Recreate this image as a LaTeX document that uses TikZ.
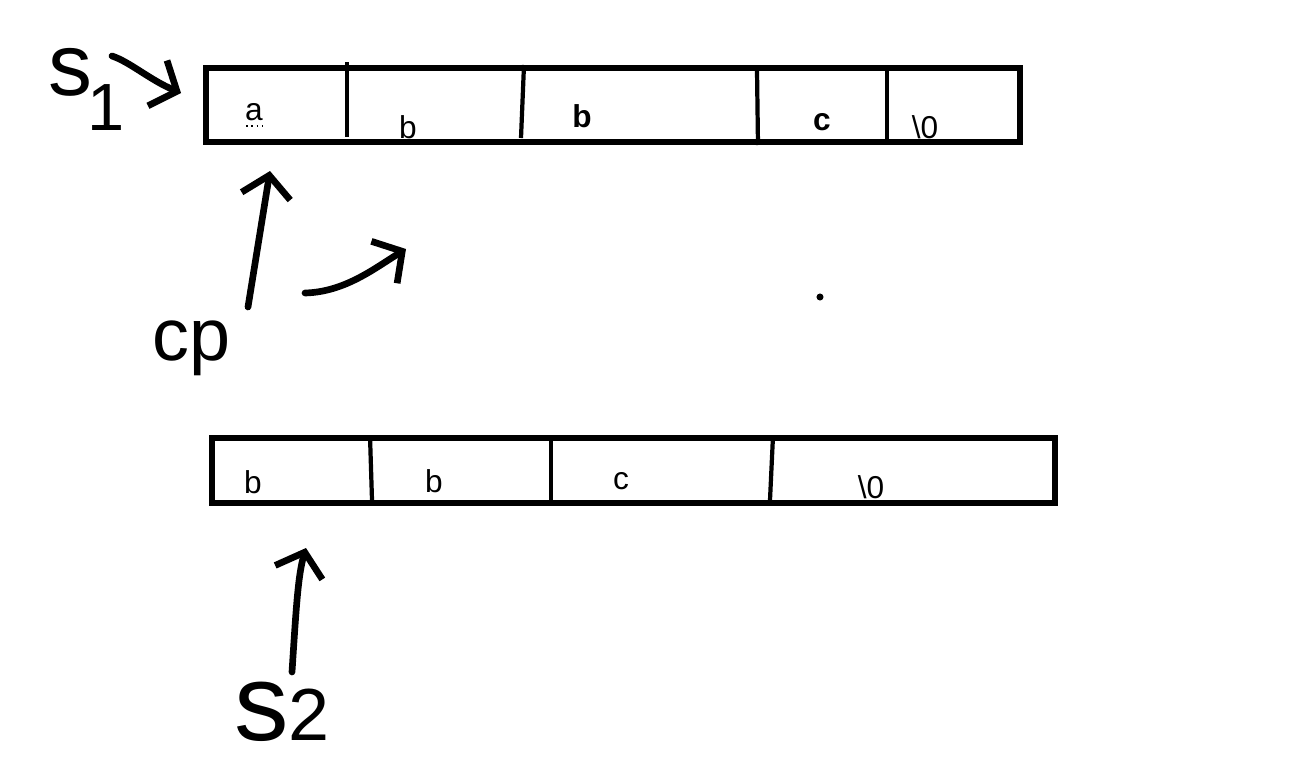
\documentclass[tikz,border=0pt]{standalone}
\usepackage{fontspec}
\setmainfont{Liberation Sans}
\usetikzlibrary{arrows.meta}
\tikzset{
  outline/.style={line width=3.4pt},
  divider/.style={line width=2.4pt},
  pen/.style={line width=3.8pt,line cap=round,line join=round},
  penarrow/.style={pen,-{Straight Barb[length=12pt,width=28pt]}},
  celltext/.style={font=\fontsize{18}{18}\selectfont,inner sep=0pt},
  scrawl/.style={inner sep=0pt,anchor=base west}
}
\begin{document}
\begin{tikzpicture}[x=0.02cm,y=-0.02cm]
        \useasboundingbox (0,0) rectangle (1313,781);
        \draw[outline] (206,68) rectangle (1020,142);
        \draw[divider] (347,62) -- (347,137);
        \draw[divider] (524,65) -- (521,138);
        \draw[divider] (757,70) -- (758,145);
        \draw[divider] (887,70) -- (887,140);
        \node[celltext] (a1) at (254,112) {a};
        \node[celltext] (b1) at (408,127) {b};
        \node[celltext,font=\fontsize{18}{18}\selectfont\bfseries] (b2) at (582,116) {b};
        \node[celltext,font=\fontsize{18}{18}\selectfont\bfseries] (c1) at (822,122) {c};
        \node[celltext] (z1) at (925,127) {\textbackslash 0};
        \draw[line width=1pt,dotted] (246,126) -- (263,126);
        \draw[outline] (212,438) rectangle (1055,503);
        \draw[divider] (370,436) -- (372,500);
        \draw[divider] (551,440) -- (551,500);
        \draw[divider] (773,436) -- (770,500);
        \node[celltext] (b3) at (253,482) {b};
        \node[celltext] (b4) at (434,481) {b};
        \node[celltext] (c2) at (621,481) {c};
        \node[celltext] (z2) at (871,487) {\textbackslash 0};
        \node[scrawl,font=\fontsize{50}{50}\selectfont] (s1) at (48,95) {s\hspace{-3pt}\raisebox{-20pt}{\fontsize{38}{38}\selectfont 1}};
        \node[scrawl,font=\fontsize{42}{42}\selectfont] (cp) at (152,360) {cp};
        \node[scrawl,font=\fontsize{62}{62}\selectfont] (s2) at (234,740) {s\hspace{0pt}\fontsize{42}{42}\selectfont 2};
        \coordinate (s1tail) at (112,56);
        \coordinate (s1head) at (181,93);
        \coordinate (cptail) at (248,307);
        \coordinate (cphead) at (270,171);
        \coordinate (movetail) at (305,293);
        \coordinate (movehead) at (406,249);
        \coordinate (s2tail) at (292,672);
        \coordinate (s2head) at (306,548);
        \draw[penarrow] (s1tail) .. controls (130,62) and (150,80) .. (s1head);
        \draw[penarrow] (cptail) -- (cphead);
        \draw[penarrow] (movetail) .. controls (345,292) and (375,268) .. (movehead);
        \draw[penarrow] (s2tail) .. controls (296,610) and (298,575) .. (s2head);
        \fill (820,297) circle (2pt);
    \end{tikzpicture}
\end{document}
